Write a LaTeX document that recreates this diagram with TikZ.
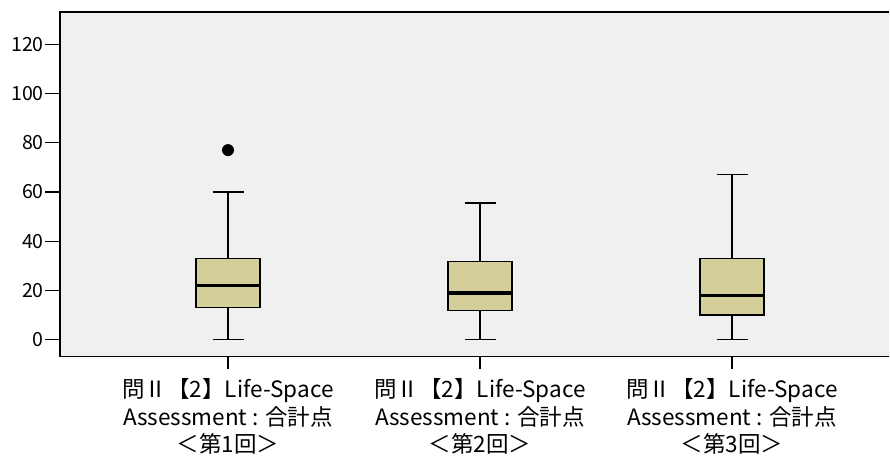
\documentclass[tikz,border=0pt]{standalone}
\usepackage{fontspec}
\setmainfont{Noto Sans CJK JP}
\usetikzlibrary{positioning}
\definecolor{plotbg}{HTML}{F0F0F0}
\definecolor{boxfill}{HTML}{D3CE9A}

\begin{document}
\begin{tikzpicture}[x=1pt, y=1pt,
	wline/.style={line width=1.4pt},
	qbox/.style={draw, line width=1.4pt, fill=boxfill},
	medline/.style={line width=3.4pt},
	ticklbl/.style={left, inner sep=1pt, font=\fontsize{19.5}{19.5}\selectfont},
	catlbl/.style={below, align=center, inner sep=2pt, yshift=-8pt, font=\fontsize{22.5}{27.3}\selectfont}]
	\useasboundingbox (0,0) rectangle (890,457);
	\begin{scope}[yshift=117.3pt, y=2.462pt]
		% plot area
		\fill[plotbg] (60,-6.8) rectangle (889,133.1);
		\draw[line width=1.4pt] (889,133.1) -- (60,133.1) -- (60,-6.8) -- (889,-6.8);
		% y axis
		\foreach \v in {0,20,...,120} {
			\draw[line width=1.4pt] (45,\v) -- (60,\v);
			\node[ticklbl] (y\v) at (45,\v) {\v};
		}
		% boxes: x, lower whisker, q1, median, q3, upper whisker
		\foreach \n/\x/\lo/\qa/\md/\qc/\hi in {1/228/0/13/22/33/60, 2/480/0/11.9/19/31.7/55.5, 3/732/0/10/18/33/67} {
			\draw[wline] (\x,\lo) -- (\x,\hi);
			\draw[wline] (\x-15.5,\lo) -- (\x+15.5,\lo);
			\draw[wline] (\x-15.5,\hi) -- (\x+15.5,\hi);
			\draw[qbox] (\x-32,\qa) rectangle (\x+32,\qc);
			\draw[medline] (\x-32,\md) -- (\x+32,\md);
			\draw[line width=1.4pt] (\x,-6.8) -- (\x,-11.7) coordinate (t\n);
			\node[catlbl] (c\n) at (t\n) {問Ⅱ【2】Life-Space\\Assessment : 合計点\\＜第\n 回＞};
		}
		% outlier
		\fill (228,77) circle (6pt);
	\end{scope}
\end{tikzpicture}
\end{document}
